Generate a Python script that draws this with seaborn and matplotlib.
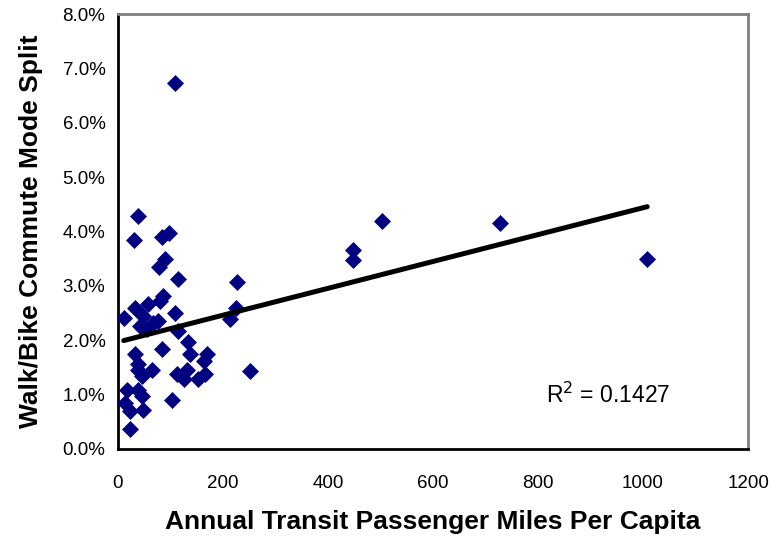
import numpy as np
import pandas as pd
import matplotlib
matplotlib.use("Agg")
import matplotlib.pyplot as plt
import seaborn as sns
from matplotlib.ticker import PercentFormatter

# annual transit passenger miles per capita
miles = [109, 502, 727, 1008, 447, 448, 252, 226, 225, 213,
         39, 30, 83, 98, 90, 79, 115, 86, 80, 109,
         11, 32, 58, 48, 42, 67, 77, 55, 115, 83,
         134, 32, 39, 137, 169, 163, 64, 39, 45, 112,
         131, 125, 153, 166, 17, 39, 45, 13, 23, 48,
         102, 23]
# walk/bike commute mode split (%)
split = [6.73, 4.19, 4.15, 3.49, 3.66, 3.47, 1.43, 3.07, 2.60, 2.39,
         4.29, 3.85, 3.89, 3.98, 3.49, 3.34, 3.13, 2.81, 2.72, 2.51,
         2.40, 2.60, 2.66, 2.45, 2.26, 2.32, 2.35, 2.20, 2.17, 1.83,
         1.96, 1.74, 1.56, 1.74, 1.74, 1.62, 1.46, 1.46, 1.34, 1.37,
         1.46, 1.28, 1.28, 1.37, 1.09, 1.09, 0.97, 0.85, 0.69, 0.72,
         0.91, 0.36]

df = pd.DataFrame({"miles": miles, "split": split})

sns.set_style("white")
plt.rcParams["font.family"] = ["Liberation Sans", "DejaVu Sans"]
plt.rcParams["text.color"] = "black"
plt.rcParams["axes.labelcolor"] = "black"

fig = plt.figure(figsize=(7.76, 5.39), dpi=100)
ax = fig.add_axes([0.152, 0.167, 0.812, 0.807])

sns.regplot(data=df, x="miles", y="split", ax=ax, ci=None,
            marker="D",
            scatter_kws={"s": 75, "color": "#000080", "alpha": 1,
                         "linewidths": 0, "zorder": 3},
            line_kws={"color": "black", "linewidth": 3.6, "zorder": 4})

ax.set_xlim(0, 1200)
ax.set_ylim(0, 8)
ax.set_xticks(np.arange(0, 1201, 200))
ax.set_yticks(np.arange(0, 8.1, 1))
ax.yaxis.set_major_formatter(PercentFormatter(decimals=1))
ax.tick_params(axis="both", direction="out", length=5, width=1.6,
               labelsize=13.5, colors="black", pad=4)
ax.tick_params(axis="x", pad=14)

for side in ["left", "bottom"]:
    ax.spines[side].set_color("black")
    ax.spines[side].set_linewidth(2)
for side in ["top", "right"]:
    ax.spines[side].set_color("#808080")
    ax.spines[side].set_linewidth(2)

ax.set_xlabel("Annual Transit Passenger Miles Per Capita", fontsize=19,
              fontweight="bold", labelpad=13, color="black")
ax.set_ylabel("Walk/Bike Commute Mode Split", fontsize=19,
              fontweight="bold", labelpad=14, color="black")

ax.text(815, 0.85, "R$^2$ = 0.1427", fontsize=16.5, color="black")

fig.savefig("out.png", dpi=100)
